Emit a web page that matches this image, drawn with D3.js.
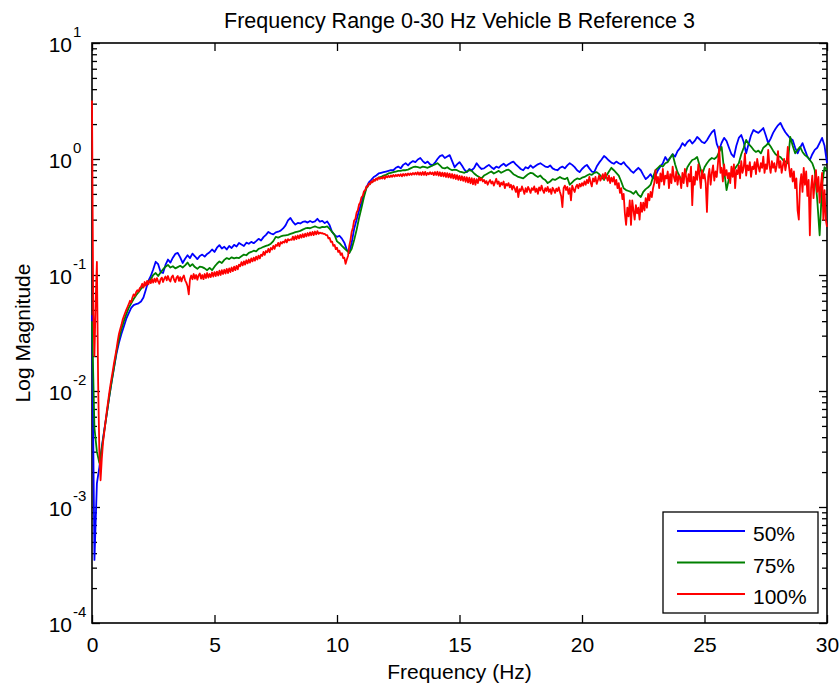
<!DOCTYPE html>
<html>
<head>
<meta charset="utf-8">
<script src="https://cdn.jsdelivr.net/npm/d3@7"></script>
<style>
  html, body { margin: 0; padding: 0; background: #fff; }
  svg { display: block; font-family: "Liberation Sans", Arial, Helvetica, sans-serif; }
</style>
</head>
<body>
<svg id="chart" width="840" height="687"></svg>
<script>
// Spectral magnitude, Vehicle B, reference 3 (0-30 Hz)
const titleText = "Frequency Range 0-30 Hz Vehicle B Reference 3";
const xLabelText = "Frequency (Hz)";
const yLabelText = "Log Magnitude";
const seriesNames = ["50%", "75%", "100%"];
const seriesColors = ["#0000ff", "#008000", "#ff0000"];
const xTicks = [0, 5, 10, 15, 20, 25, 30];
const yExponents = [-4, -3, -2, -1, 0, 1];

// sample spacing (Hz) of each record
const step50 = 0.1;
const step75 = 0.1;
const step100 = 0.05;

// 50% load, one row per Hz
const mag50 = [
  0.045, 0.00035, 0.0016, 0.0022, 0.0033, 0.0046, 0.0063, 0.0088, 0.012, 0.016,
  0.021, 0.026, 0.031, 0.036, 0.042, 0.047, 0.052, 0.055, 0.056, 0.057,
  0.059, 0.064, 0.075, 0.089, 0.098, 0.112, 0.130, 0.124, 0.106, 0.104,
  0.122, 0.136, 0.128, 0.141, 0.152, 0.155, 0.142, 0.127, 0.138, 0.148,
  0.140, 0.153, 0.145, 0.137, 0.146, 0.150, 0.144, 0.152, 0.157, 0.166,
  0.158, 0.172, 0.181, 0.169, 0.175, 0.166, 0.178, 0.171, 0.182, 0.176,
  0.189, 0.183, 0.178, 0.190, 0.186, 0.193, 0.188, 0.196, 0.205, 0.198,
  0.212, 0.222, 0.235, 0.228, 0.224, 0.233, 0.236, 0.241, 0.252, 0.268,
  0.296, 0.310, 0.287, 0.272, 0.281, 0.278, 0.287, 0.290, 0.283, 0.292,
  0.285, 0.290, 0.305, 0.288, 0.293, 0.280, 0.290, 0.268, 0.235, 0.222,
  0.213, 0.218, 0.206, 0.190, 0.165, 0.155, 0.190, 0.250, 0.300, 0.360,
  0.42, 0.50, 0.57, 0.63, 0.66, 0.70, 0.72, 0.75, 0.76, 0.77,
  0.78, 0.79, 0.80, 0.80, 0.84, 0.86, 0.83, 0.89, 0.92, 0.88,
  0.93, 0.96, 0.94, 0.99, 1.02, 0.96, 0.92, 0.95, 0.90, 0.88,
  0.93, 1.00, 1.06, 1.08, 1.02, 1.05, 1.08, 0.96, 0.85, 0.90,
  0.94, 0.88, 0.81, 0.77, 0.82, 0.80, 0.84, 0.92, 0.86, 0.82,
  0.83, 0.86, 0.89, 0.85, 0.82, 0.86, 0.84, 0.88, 0.91, 0.87,
  0.90, 0.93, 0.95, 0.90, 0.86, 0.82, 0.80, 0.85, 0.83, 0.88,
  0.84, 0.87, 0.90, 0.92, 0.89, 0.86, 0.85, 0.88, 0.83, 0.81,
  0.80, 0.84, 0.86, 0.83, 0.88, 0.92, 0.89, 0.85, 0.80, 0.77,
  0.82, 0.86, 0.89, 0.83, 0.78, 0.77, 0.86, 0.93, 0.99, 1.06,
  1.02, 0.97, 0.93, 0.91, 0.95, 0.92, 0.90, 0.94, 0.88, 0.84,
  0.79, 0.76, 0.80, 0.84, 0.80, 0.73, 0.67, 0.70, 0.74, 0.68,
  0.72, 0.80, 0.86, 0.92, 1.04, 0.96, 1.03, 1.10, 1.05, 1.17,
  1.24, 1.37, 1.30, 1.40, 1.46, 1.36, 1.43, 1.55, 1.48, 1.40,
  1.37, 1.45, 1.58, 1.70, 1.78, 1.35, 1.20, 1.38, 1.52, 1.43,
  1.25, 1.10, 1.04, 1.30, 1.52, 1.61, 1.40, 1.12, 1.35, 1.60,
  1.78, 1.72, 1.68, 1.76, 1.85, 1.60, 1.37, 1.50, 1.68, 1.82,
  1.95, 2.05, 1.85, 1.70, 1.60, 1.50, 1.46, 1.25, 1.12, 1.25,
  1.37, 1.20, 1.05, 0.98, 1.10, 1.20, 1.25, 1.38, 1.52, 1.30,
  0.92
];

// 75% load, one row per Hz
const mag75 = [
  0.040, 0.0048, 0.0030, 0.0024, 0.0032, 0.0045, 0.0063, 0.0088, 0.012, 0.016,
  0.022, 0.028, 0.034, 0.040, 0.046, 0.052, 0.057, 0.062, 0.067, 0.071,
  0.076, 0.080, 0.083, 0.087, 0.092, 0.100, 0.104, 0.098, 0.105, 0.112,
  0.118, 0.122, 0.116, 0.119, 0.114, 0.117, 0.120, 0.116, 0.121, 0.128,
  0.119, 0.124, 0.117, 0.113, 0.118, 0.117, 0.114, 0.110, 0.115, 0.110,
  0.118, 0.125, 0.131, 0.127, 0.135, 0.140, 0.137, 0.142, 0.139, 0.141,
  0.140, 0.145, 0.150, 0.148, 0.155, 0.158, 0.162, 0.160, 0.168, 0.171,
  0.175, 0.178, 0.181, 0.186, 0.196, 0.213, 0.210, 0.215, 0.218, 0.220,
  0.222, 0.226, 0.230, 0.234, 0.237, 0.240, 0.246, 0.252, 0.255, 0.253,
  0.258, 0.262, 0.258, 0.255, 0.260, 0.259, 0.262, 0.250, 0.235, 0.222,
  0.195, 0.188, 0.178, 0.170, 0.162, 0.155, 0.168, 0.200, 0.245, 0.310,
  0.38, 0.47, 0.56, 0.60, 0.63, 0.65, 0.67, 0.69, 0.70, 0.72,
  0.73, 0.75, 0.76, 0.77, 0.78, 0.79, 0.79, 0.80, 0.80, 0.81,
  0.83, 0.85, 0.86, 0.85, 0.84, 0.86, 0.85, 0.84, 0.86, 0.88,
  0.90, 0.92, 0.88, 0.84, 0.83, 0.85, 0.82, 0.80, 0.81, 0.80,
  0.78, 0.77, 0.76, 0.78, 0.80, 0.79, 0.75, 0.72, 0.70, 0.68,
  0.72, 0.74, 0.76, 0.78, 0.75, 0.77, 0.79, 0.76, 0.78, 0.80,
  0.81, 0.78, 0.74, 0.72, 0.70, 0.69, 0.68, 0.71, 0.74, 0.76,
  0.75, 0.72, 0.70, 0.72, 0.68, 0.66, 0.62, 0.64, 0.67, 0.66,
  0.68, 0.70, 0.68, 0.67, 0.69, 0.60, 0.63, 0.66, 0.68, 0.67,
  0.69, 0.70, 0.72, 0.74, 0.73, 0.76, 0.77, 0.74, 0.70, 0.66,
  0.72, 0.78, 0.84, 0.80, 0.76, 0.72, 0.64, 0.56, 0.54, 0.53,
  0.52, 0.50, 0.53, 0.49, 0.47, 0.52, 0.55, 0.57, 0.60, 0.70,
  0.80, 0.84, 0.88, 0.86, 0.92, 0.94, 1.02, 1.10, 0.90, 0.77,
  0.70, 0.64, 0.72, 0.85, 0.92, 0.98, 1.00, 1.04, 0.88, 0.73,
  0.85, 0.92, 0.98, 1.02, 1.00, 1.04, 1.15, 1.27, 0.80, 0.54,
  0.68, 0.75, 0.80, 0.86, 0.92, 1.10, 1.25, 1.46, 1.35, 1.28,
  1.20, 1.15, 1.18, 1.12, 1.25, 1.30, 1.37, 1.28, 1.18, 1.10,
  1.06, 1.04, 0.98, 0.95, 0.92, 1.55, 1.30, 1.12, 1.20, 1.27,
  1.15, 1.08, 1.04, 0.98, 0.92, 0.80, 0.45, 0.22, 0.60, 0.85,
  0.80
];

// 100% load, one row per Hz
const mag100 = [
  3.2, 0.05, 0.02, 0.06, 0.13, 0.012, 0.003, 0.0017, 0.0026, 0.0036, 0.0044, 0.0054, 0.0066, 0.0079, 0.0095, 0.0112, 0.013, 0.015, 0.0175, 0.020,
  0.023, 0.027, 0.031, 0.034, 0.037, 0.041, 0.044, 0.047, 0.050, 0.053, 0.056, 0.060, 0.058, 0.064, 0.068, 0.066, 0.071, 0.074, 0.072, 0.077,
  0.079, 0.084, 0.078, 0.087, 0.081, 0.089, 0.083, 0.090, 0.085, 0.092, 0.086, 0.093, 0.087, 0.094, 0.088, 0.084, 0.092, 0.095, 0.087, 0.093,
  0.097, 0.090, 0.098, 0.091, 0.088, 0.096, 0.099, 0.091, 0.087, 0.095, 0.098, 0.089, 0.096, 0.088, 0.095, 0.099, 0.090, 0.086, 0.080, 0.068,
  0.092, 0.099, 0.092, 0.102, 0.093, 0.100, 0.091, 0.099, 0.103, 0.093, 0.100, 0.092, 0.102, 0.094, 0.104, 0.095, 0.102, 0.096, 0.105, 0.097,
  0.106, 0.098, 0.107, 0.099, 0.109, 0.100, 0.110, 0.102, 0.111, 0.103, 0.113, 0.104, 0.114, 0.106, 0.116, 0.108, 0.118, 0.110, 0.120, 0.112,
  0.123, 0.119, 0.129, 0.121, 0.131, 0.123, 0.134, 0.126, 0.136, 0.128, 0.139, 0.131, 0.141, 0.133, 0.144, 0.136, 0.147, 0.139, 0.150, 0.146,
  0.158, 0.149, 0.161, 0.157, 0.168, 0.157, 0.171, 0.166, 0.178, 0.168, 0.182, 0.178, 0.189, 0.177, 0.192, 0.187, 0.194, 0.190, 0.202, 0.191,
  0.204, 0.199, 0.203, 0.201, 0.214, 0.201, 0.216, 0.204, 0.219, 0.207, 0.222, 0.210, 0.225, 0.212, 0.227, 0.215, 0.230, 0.218, 0.233, 0.220,
  0.235, 0.221, 0.237, 0.224, 0.239, 0.226, 0.232, 0.229, 0.230, 0.226, 0.226, 0.221, 0.221, 0.207, 0.209, 0.193, 0.194, 0.178, 0.182, 0.167,
  0.172, 0.158, 0.162, 0.149, 0.154, 0.140, 0.141, 0.125, 0.136, 0.146, 0.178, 0.200, 0.236, 0.256, 0.295, 0.304, 0.345, 0.362, 0.405, 0.422,
  0.468, 0.480, 0.528, 0.535, 0.580, 0.578, 0.615, 0.606, 0.642, 0.630, 0.665, 0.648, 0.680, 0.662, 0.692, 0.674, 0.690, 0.678, 0.708, 0.676,
  0.712, 0.694, 0.716, 0.698, 0.722, 0.702, 0.728, 0.706, 0.730, 0.712, 0.734, 0.714, 0.738, 0.708, 0.742, 0.716, 0.745, 0.720, 0.750, 0.728,
  0.752, 0.730, 0.758, 0.734, 0.762, 0.736, 0.768, 0.732, 0.766, 0.728, 0.772, 0.730, 0.774, 0.725, 0.760, 0.738, 0.768, 0.740, 0.766, 0.726,
  0.772, 0.728, 0.776, 0.718, 0.768, 0.712, 0.764, 0.708, 0.760, 0.700, 0.756, 0.694, 0.748, 0.688, 0.742, 0.680, 0.734, 0.672, 0.726, 0.662,
  0.716, 0.656, 0.710, 0.648, 0.702, 0.636, 0.696, 0.628, 0.690, 0.618, 0.684, 0.606, 0.676, 0.600, 0.670, 0.620, 0.690, 0.655, 0.680, 0.640,
  0.660, 0.620, 0.645, 0.600, 0.635, 0.660, 0.615, 0.640, 0.590, 0.630, 0.675, 0.610, 0.640, 0.580, 0.625, 0.600, 0.640, 0.560, 0.610, 0.590,
  0.620, 0.570, 0.600, 0.545, 0.590, 0.560, 0.520, 0.575, 0.470, 0.550, 0.530, 0.580, 0.540, 0.500, 0.560, 0.520, 0.575, 0.545, 0.510, 0.560,
  0.540, 0.580, 0.520, 0.555, 0.500, 0.570, 0.535, 0.590, 0.540, 0.510, 0.560, 0.530, 0.575, 0.520, 0.550, 0.500, 0.565, 0.540, 0.510, 0.555,
  0.530, 0.570, 0.520, 0.480, 0.385, 0.560, 0.590, 0.540, 0.575, 0.500, 0.560, 0.440, 0.590, 0.550, 0.520, 0.575, 0.600, 0.560, 0.610, 0.580,
  0.620, 0.590, 0.640, 0.600, 0.660, 0.620, 0.700, 0.630, 0.580, 0.680, 0.640, 0.700, 0.610, 0.660, 0.720, 0.650, 0.690, 0.740, 0.670, 0.760,
  0.700, 0.650, 0.720, 0.620, 0.690, 0.640, 0.700, 0.600, 0.660, 0.560, 0.620, 0.510, 0.560, 0.450, 0.500, 0.340, 0.270, 0.380, 0.320, 0.440,
  0.270, 0.440, 0.360, 0.300, 0.400, 0.340, 0.380, 0.300, 0.420, 0.350, 0.420, 0.360, 0.460, 0.380, 0.500, 0.440, 0.520, 0.470, 0.560, 0.620,
  0.800, 0.620, 0.700, 0.560, 0.750, 0.640, 0.820, 0.600, 0.720, 0.680, 0.780, 0.560, 0.740, 0.620, 0.860, 0.700, 0.640, 0.780, 0.600, 0.720,
  0.680, 0.560, 0.760, 0.620, 0.820, 0.700, 0.580, 0.740, 0.640, 0.860, 0.400, 0.700, 0.600, 0.780, 0.660, 0.900, 0.720, 0.560, 0.800, 0.680,
  0.740, 0.620, 0.350, 0.700, 0.820, 0.600, 0.760, 0.880, 0.650, 0.780, 0.700, 0.920, 1.270, 0.760, 0.840, 0.640, 0.900, 0.720, 0.800, 0.680,
  0.760, 0.620, 0.860, 0.700, 0.900, 0.560, 0.800, 0.740, 0.880, 0.680, 0.960, 0.760, 0.840, 1.120, 0.720, 0.880, 0.800, 0.940, 0.700, 0.860,
  0.820, 0.940, 0.740, 1.000, 0.860, 0.780, 0.920, 0.840, 1.050, 0.760, 0.900, 0.820, 1.200, 0.880, 0.760, 0.960, 0.840, 0.920, 0.780, 0.880,
  1.170, 0.840, 0.960, 0.760, 0.880, 1.000, 0.800, 0.920, 1.270, 0.860, 0.700, 0.820, 0.640, 0.780, 0.560, 0.680, 0.360, 0.300, 0.600, 0.740,
  0.520, 0.840, 0.600, 0.780, 0.480, 0.660, 0.220, 0.560, 0.720, 0.460, 0.640, 0.800, 0.520, 0.700, 0.420, 0.600, 0.760, 0.300, 0.540, 0.300,
  0.260
];

const svg = d3.select("#chart");
const W = 840, H = 687;
const plot = { left: 92, right: 827, top: 43, bottom: 623 };
const fontSize = 21;
const traceWidth = 1.8;

const x = d3.scaleLinear().domain([0, 30]).range([plot.left, plot.right]);
const y = d3.scaleLog().domain([1e-4, 10]).range([plot.bottom, plot.top]);

svg.append("rect").attr("width", W).attr("height", H).attr("fill", "#fff");

svg.append("defs").append("clipPath").attr("id", "plotClip")
  .append("rect")
  .attr("x", plot.left - 1).attr("y", plot.top)
  .attr("width", plot.right - plot.left + 2).attr("height", plot.bottom - plot.top);

// axes with inward ticks on all four sides
const axisColor = "#000";
const majorLen = 8, minorLen = 5;
const xAxisBottom = d3.axisBottom(x).tickValues(xTicks).tickSize(-majorLen).tickPadding(14).tickFormat(d3.format("d"));
const xAxisTop = d3.axisTop(x).tickValues(xTicks).tickSize(-majorLen).tickFormat("");

const minorY = [];
yExponents.slice(0, -1).forEach(e => {
  for (let m = 2; m <= 9; m++) minorY.push(m * Math.pow(10, e));
});
const majorY = yExponents.map(e => Math.pow(10, e));

const gxb = svg.append("g").attr("transform", `translate(0,${plot.bottom})`).call(xAxisBottom);
const gxt = svg.append("g").attr("transform", `translate(0,${plot.top})`).call(xAxisTop);

const gyl = svg.append("g").attr("transform", `translate(${plot.left},0)`)
  .call(d3.axisLeft(y).tickValues(majorY).tickSize(-majorLen).tickFormat(""));
const gylm = svg.append("g").attr("transform", `translate(${plot.left},0)`)
  .call(d3.axisLeft(y).tickValues(minorY).tickSize(-minorLen).tickFormat(""));
const gyr = svg.append("g").attr("transform", `translate(${plot.right},0)`)
  .call(d3.axisRight(y).tickValues(majorY).tickSize(-majorLen).tickFormat(""));
const gyrm = svg.append("g").attr("transform", `translate(${plot.right},0)`)
  .call(d3.axisRight(y).tickValues(minorY).tickSize(-minorLen).tickFormat(""));

[gxb, gxt, gyl, gylm, gyr, gyrm].forEach(g => {
  g.select(".domain").remove();
  g.selectAll(".tick line").attr("stroke", axisColor).attr("stroke-width", 1.3);
});
gxb.selectAll(".tick text")
  .attr("fill", "#000")
  .attr("font-size", fontSize)
  .attr("font-family", "'Liberation Sans', Arial, sans-serif");

// frame
svg.append("rect")
  .attr("x", plot.left).attr("y", plot.top)
  .attr("width", plot.right - plot.left).attr("height", plot.bottom - plot.top)
  .attr("fill", "none").attr("stroke", axisColor).attr("stroke-width", 1.6);

// traces, drawn over the frame
const series = [
  { values: mag50, step: step50 },
  { values: mag75, step: step75 },
  { values: mag100, step: step100 }
];
const line = d3.line().x(d => x(d[0])).y(d => y(d[1]));
const traces = svg.append("g").attr("clip-path", "url(#plotClip)");
series.forEach((s, k) => {
  const pts = s.values.map((v, i) => [i * s.step, v]);
  traces.append("path")
    .datum(pts)
    .attr("d", line)
    .attr("fill", "none")
    .attr("stroke", seriesColors[k])
    .attr("stroke-width", traceWidth)
    .attr("stroke-linejoin", "round");
});

// power-of-ten labels
const yLab = svg.append("g").attr("font-size", fontSize).attr("fill", "#000");
yExponents.forEach(e => {
  const yy = y(Math.pow(10, e));
  yLab.append("text").attr("x", 72).attr("y", yy + 9).attr("text-anchor", "end").text("10");
  yLab.append("text").attr("x", 73).attr("y", yy - 6).attr("font-size", 15).attr("text-anchor", "start").text(e);
});

// title and axis labels
svg.append("text").attr("x", (plot.left + plot.right) / 2).attr("y", 28)
  .attr("text-anchor", "middle").attr("font-size", 21.5).text(titleText);
svg.append("text").attr("x", (plot.left + plot.right) / 2).attr("y", 679)
  .attr("text-anchor", "middle").attr("font-size", fontSize).text(xLabelText);
svg.append("text").attr("transform", `translate(30,${(plot.top + plot.bottom) / 2}) rotate(-90)`)
  .attr("text-anchor", "middle").attr("font-size", fontSize).text(yLabelText);

// legend
const lg = { x: 663, y: 512, w: 155, h: 101 };
const legend = svg.append("g");
legend.append("rect").attr("x", lg.x).attr("y", lg.y).attr("width", lg.w).attr("height", lg.h)
  .attr("fill", "#fff").attr("stroke", "#000").attr("stroke-width", 1.3);
const rowY = d3.scalePoint().domain(seriesNames).range([lg.y + 19, lg.y + 82]);
seriesNames.forEach((name, k) => {
  const ry = rowY(name);
  legend.append("line").attr("x1", lg.x + 14).attr("x2", lg.x + 82).attr("y1", ry).attr("y2", ry)
    .attr("stroke", seriesColors[k]).attr("stroke-width", traceWidth);
  legend.append("text").attr("x", lg.x + 90).attr("y", ry + 10).attr("font-size", fontSize).text(name);
});
</script>
</body>
</html>
